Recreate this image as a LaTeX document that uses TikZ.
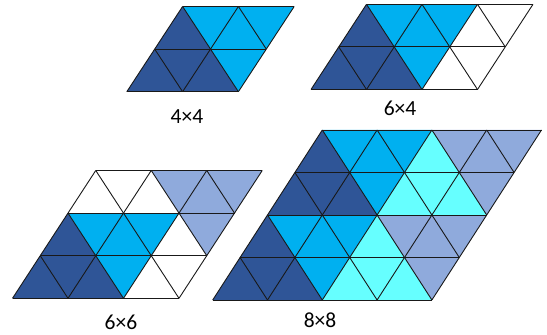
\documentclass[tikz,border=0pt]{standalone}
\usepackage{fontspec}
\setmainfont{Carlito}
\definecolor{dkb}{RGB}{47,85,151}
\definecolor{cyb}{RGB}{0,176,240}
\definecolor{ltc}{RGB}{102,255,255}
\definecolor{lav}{RGB}{143,170,220}
\tikzset{
  gridline/.style={draw=black!90, line width=0.9pt, line join=round},
  lbl/.style={font=\fontsize{21.5}{23}\selectfont, inner sep=0pt}
}
\newcommand\mygrid[2]{%
  \foreach \j in {0,...,#2} \draw[gridline] (0,\j) -- (#1,\j);
  \foreach \i in {0,...,#1} \draw[gridline] (\i,0) -- (\i,#2);
  \pgfmathtruncatemacro\kmax{#1+#2-1}
  \foreach \k in {1,...,\kmax}{%
    \pgfmathtruncatemacro\jlo{max(0,\k-#1)}
    \pgfmathtruncatemacro\jhi{min(#2,\k)}
    \pgfmathtruncatemacro\ilo{\k-\jlo}
    \pgfmathtruncatemacro\ihi{\k-\jhi}
    \draw[gridline] (\ilo,\jlo) -- (\ihi,\jhi);
  }%
}
\begin{document}
\begin{tikzpicture}[x=1pt,y=1pt]
\useasboundingbox (0,0) rectangle (547,335);
% 4x4
\begin{scope}[shift={(126.8pt,243.3pt)}, x={(55.8pt,0pt)}, y={(27.9pt,42.6pt)}]
  \fill[dkb] (0,0) -- (2,0) -- (0,2) -- cycle;
  \fill[cyb] (2,0) -- (2,2) -- (0,2) -- cycle;
  \mygrid{2}{2}
\end{scope}
% 6x4
\begin{scope}[shift={(311pt,245.5pt)}, x={(55.5pt,0pt)}, y={(27.75pt,42.6pt)}]
  \fill[dkb] (0,0) -- (2,0) -- (0,2) -- cycle;
  \fill[cyb] (2,0) -- (2,2) -- (0,2) -- cycle;
  \mygrid{3}{2}
\end{scope}
% 6x6
\begin{scope}[shift={(12.5pt,36.7pt)}, x={(55.5pt,0pt)}, y={(27.75pt,42.6pt)}]
  \fill[dkb] (0,0) -- (2,0) -- (0,2) -- cycle;
  \fill[cyb] (2,0) -- (2,2) -- (0,2) -- cycle;
  \fill[lav] (3,1) -- (3,3) -- (1,3) -- cycle;
  \mygrid{3}{3}
\end{scope}
% 8x8
\begin{scope}[shift={(212.7pt,35pt)}, x={(54.8pt,0pt)}, y={(27.4pt,42.5pt)}]
  \fill[dkb] (0,0) -- (2,0) -- (0,2) -- cycle;
  \fill[cyb] (2,0) -- (2,2) -- (0,2) -- cycle;
  \fill[dkb] (0,2) -- (2,2) -- (0,4) -- cycle;
  \fill[cyb] (2,2) -- (2,4) -- (0,4) -- cycle;
  \fill[ltc] (2,0) -- (4,0) -- (2,2) -- cycle;
  \fill[lav] (4,0) -- (4,2) -- (2,2) -- cycle;
  \fill[ltc] (2,2) -- (4,2) -- (2,4) -- cycle;
  \fill[lav] (4,2) -- (4,4) -- (2,4) -- cycle;
  \mygrid{4}{4}
\end{scope}
\node[lbl] (l44) at (187,218) {4×4};
\node[lbl] (l64) at (400,227) {6×4};
\node[lbl] (l66) at (121,12.5) {6×6};
\node[lbl] (l88) at (320,14.3) {8×8};
\end{tikzpicture}
\end{document}
